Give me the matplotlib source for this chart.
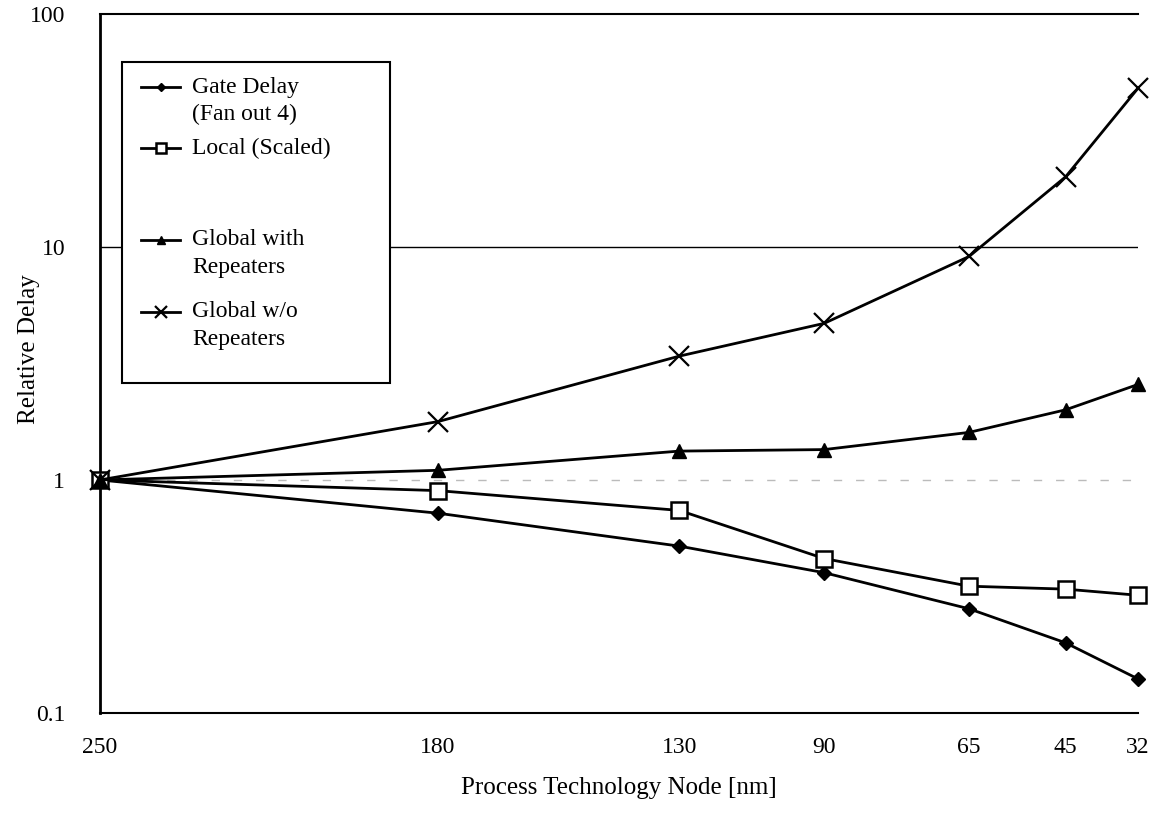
import matplotlib
matplotlib.use("Agg")
from matplotlib import pyplot as plt
from matplotlib.lines import Line2D
from matplotlib.patches import Rectangle

plt.rcParams["font.family"] = ["Liberation Serif", "DejaVu Serif"]
plt.rcParams["font.size"] = 17

# x positions follow the old roadmap nodes, labels are the renamed nodes
node_x = [250, 180, 130, 100, 70, 50, 35]
node_labels = ["250", "180", "130", "90", "65", "45", "32"]

gate_delay = [1.0, 0.72, 0.52, 0.40, 0.28, 0.20, 0.14]
local_scaled = [1.0, 0.90, 0.74, 0.46, 0.35, 0.34, 0.32]
global_rep = [1.0, 1.10, 1.33, 1.35, 1.60, 2.0, 2.57]
global_norep = [1.0, 1.78, 3.4, 4.7, 9.1, 20.0, 48.0]

series = [
    ("Gate Delay\n(Fan out 4)", gate_delay, dict(marker="D", ms=7, mfc="black")),
    ("Local (Scaled)", local_scaled, dict(marker="s", ms=11, mfc="white", mew=1.8)),
    ("Global with\nRepeaters", global_rep, dict(marker="^", ms=10, mfc="black")),
    ("Global w/o\nRepeaters", global_norep, dict(marker="x", ms=14, mew=1.6)),
]

fig = plt.figure(figsize=[11.69, 8.15], dpi=100)
ax = fig.add_axes([0.0855, 0.1252, 0.888, 0.8577])

for name, vals, style in series:
    ax.plot(node_x, vals, color="black", linewidth=2.0, mec="black",
            clip_on=False, zorder=4, **style)

ax.set_yscale("log")
ax.set_ylim(0.1, 100)
ax.set_xlim(250, 35)
ax.set_yticks([0.1, 1, 10, 100])
ax.set_yticklabels(["0.1", "1", "10", "100"])
ax.minorticks_off()
ax.set_xticks(node_x)
ax.set_xticklabels(node_labels)
ax.tick_params(axis="y", length=0, pad=25, labelsize=17)
ax.tick_params(axis="x", length=0, pad=17, labelsize=17)

ax.axhline(10, color="black", linewidth=1.0, zorder=0)
ax.axhline(1, color="#bbbbbb", linewidth=1.0, linestyle=(0, (6, 10)), zorder=0)

ax.spines["right"].set_visible(False)
ax.spines["left"].set_linewidth(2.0)
ax.spines["top"].set_linewidth(1.5)
ax.spines["bottom"].set_linewidth(1.5)

ax.set_ylabel("Relative Delay", fontsize=18)
ax.yaxis.set_label_coords(-0.058, 0.52)
ax.set_xlabel("Process Technology Node [nm]", fontsize=18, labelpad=14)

# hand-made legend box, entries spaced like the original
box = Rectangle((0.021, 0.472), 0.258, 0.459, transform=ax.transAxes,
                facecolor="white", edgecolor="black", linewidth=1.5, zorder=5)
ax.add_patch(box)
entry_y = [0.895, 0.808, 0.677, 0.574]
for (name, vals, style), y in zip(series, entry_y):
    st = dict(style)
    st["ms"] = st["ms"] * 0.6
    h = Line2D([0.040, 0.0585, 0.077], [y, y, y], transform=ax.transAxes,
               color="black", linewidth=2.0, mec="black", zorder=6,
               markevery=[1], **st)
    ax.add_line(h)
    ax.text(0.089, y + 0.015, name, transform=ax.transAxes, va="top",
            ha="left", fontsize=17, linespacing=1.4, zorder=6)

fig.savefig("out.png", dpi=100)
